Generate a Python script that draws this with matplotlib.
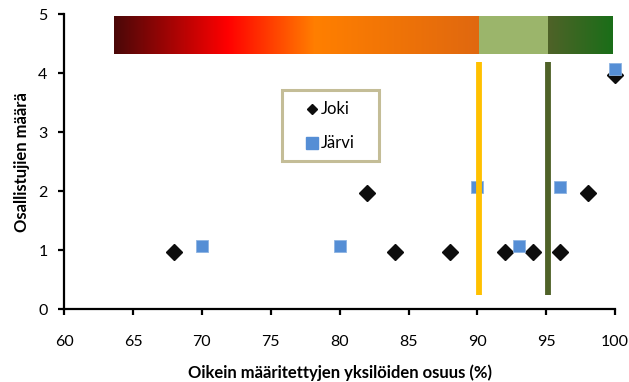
import numpy as np
import matplotlib.pyplot as plt
from matplotlib.colors import LinearSegmentedColormap
from matplotlib.patches import Rectangle

plt.rcParams['font.family'] = ['Lato', 'DejaVu Sans']

# --- data ---
joki_x = [68, 82, 84, 88, 92, 94, 96, 98, 100]
joki_n = [1, 2, 1, 1, 1, 1, 1, 2, 4]
jarvi_x = [70, 80, 90, 93, 96, 100]
jarvi_n = [1, 1, 2, 1, 2, 4]

# limit lines (%) and colour band along the top
limits = [90.1, 95.1]
limit_colors = ['#ffc000', '#4f6228']
band_x = [63.6, 90.1, 95.1, 99.8]

# the two series are nudged apart a little so overlapping points stay visible
JOKI_SHIFT = -0.03
JARVI_SHIFT = 0.07

fig = plt.figure(figsize=(6.29, 3.82), dpi=100)
ax = fig.add_axes([0.102, 0.191, 0.876, 0.772])

# colour band: red-orange gradient, flat light green, dark green gradient
warm = LinearSegmentedColormap.from_list('warm', [
    (0.0, '#4a0808'), (0.31, '#ff0000'), (0.55, '#ff7f00'), (1.0, '#e0680f')])
dark = LinearSegmentedColormap.from_list('dark', ['#4f6228', '#1a6e18'])
grad = np.linspace(0, 1, 256).reshape(1, -1)
band_y = (4.33, 4.97)
ax.imshow(grad, cmap=warm, aspect='auto', zorder=1,
          extent=(band_x[0], band_x[1], band_y[0], band_y[1]))
ax.fill_between([band_x[1], band_x[2]], band_y[0], band_y[1],
                color='#9bb56b', lw=0, zorder=1)
ax.imshow(grad, cmap=dark, aspect='auto', zorder=1,
          extent=(band_x[2], band_x[3], band_y[0], band_y[1]))

ax.plot(joki_x, np.array(joki_n) + JOKI_SHIFT, 'D', color='#0d0d0d',
        ms=8, mec='#0d0d0d', zorder=3, clip_on=False)
ax.plot(jarvi_x, np.array(jarvi_n) + JARVI_SHIFT, 's', color='#558ed5',
        ms=8.5, mec='#8db3e2', mew=0.6, zorder=4, clip_on=False)

for xv, c in zip(limits, limit_colors):
    ax.plot([xv, xv], [0.23, 4.19], color=c, lw=4.2, zorder=5,
            solid_capstyle='butt')

ax.set_xlim(60, 100)
ax.set_ylim(0, 5)
ax.set_xticks(range(60, 101, 5))
ax.set_yticks(range(0, 6))
for s in ['top', 'right']:
    ax.spines[s].set_visible(False)
for s in ['left', 'bottom']:
    ax.spines[s].set_linewidth(1.6)
ax.tick_params(direction='out', length=4, width=1.6, labelsize=11.5,
               colors='black')
ax.tick_params(axis='x', pad=15)
ax.tick_params(axis='y', pad=8)

ax.set_xlabel('Oikein määritettyjen yksilöiden osuus (%)', fontsize=12,
              fontweight='bold', labelpad=11)
ax.set_ylabel('Osallistujien määrä', fontsize=12, fontweight='bold',
              labelpad=6)

# legend box drawn by hand
box = Rectangle((0.395, 0.501), 0.1765, 0.2415, transform=ax.transAxes,
                facecolor='white', edgecolor='#c4bd97', lw=2.2, zorder=6)
ax.add_patch(box)
ax.plot([0.4506], [0.679], 'D', color='#0d0d0d', ms=5,
        transform=ax.transAxes, zorder=7, clip_on=False)
ax.plot([0.4506], [0.5643], 's', color='#558ed5', ms=9,
        transform=ax.transAxes, zorder=7, clip_on=False)
ax.text(0.466, 0.679, 'Joki', transform=ax.transAxes, fontsize=12,
        va='center', ha='left', zorder=7)
ax.text(0.466, 0.5643, 'Järvi', transform=ax.transAxes, fontsize=12,
        va='center', ha='left', zorder=7)

fig.savefig('out.png', dpi=100)
